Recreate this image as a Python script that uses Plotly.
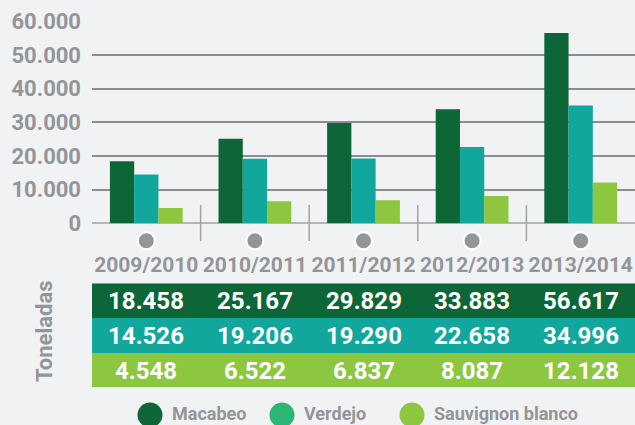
import plotly.graph_objects as go

campaigns = ["2009/2010", "2010/2011", "2011/2012", "2012/2013", "2013/2014"]
series_names = ["Macabeo", "Verdejo", "Sauvignon blanco"]
macabeo = [18458, 25167, 29829, 33883, 56617]
verdejo = [14526, 19206, 19290, 22658, 34996]
sauvignon = [4548, 6522, 6837, 8087, 12128]
y_ticks = [0, 10000, 20000, 30000, 40000, 50000, 60000]

bar_colors = ["#0d6638", "#12a79d", "#8dc63f"]
legend_colors = ["#0d6638", "#2bb673", "#8dc63f"]
GRAY = "#939598"
BG = "#f1f2f4"
FONT = "Roboto"

W, H = 635, 425
ML = 92
def py(px):
    return 1 - px / H
def pxx(px):
    return (px - ML) / (W - ML)

values = [macabeo, verdejo, sauvignon]

fig = go.Figure()
for name, vals, col in zip(series_names, values, bar_colors):
    fig.add_trace(go.Bar(x=campaigns, y=vals, name=name, marker=dict(color=col, line=dict(width=0)),
                         showlegend=False, xaxis="x", yaxis="y", hoverinfo="skip"))

# table as heatmap
z = [[i] * len(campaigns) for i in range(len(series_names))]
text = [[f"{v:,}".replace(",", ".") for v in vals] for vals in values]
fig.add_trace(go.Heatmap(
    x=campaigns, y=list(range(len(series_names))), z=z, text=text,
    texttemplate="%{text}", textfont=dict(family=FONT, size=24, color="white", weight="bold"),
    colorscale=[[0, bar_colors[0]], [0.5, bar_colors[1]], [1, bar_colors[2]]],
    zmin=0, zmax=2, showscale=False, xgap=0, ygap=0, hoverinfo="skip",
    xaxis="x2", yaxis="y2"))

shapes = []
# separators between categories
for i in range(len(campaigns) - 1):
    shapes.append(dict(type="line", xref="x", yref="paper", x0=i + 0.5, x1=i + 0.5,
                       y0=py(241), y1=py(205), line=dict(color="#a0a1a3", width=1.5)))
# gray dots under categories
for c in campaigns:
    shapes.append(dict(type="circle", xref="x", yref="paper", xsizemode="pixel", ysizemode="pixel",
                       xanchor=c, yanchor=py(240.7), x0=-8.5, x1=8.5, y0=-8.5, y1=8.5,
                       fillcolor=GRAY, line=dict(color="white", width=2)))

annotations = [dict(text="Toneladas", x=pxx(44), y=py(332), xref="paper", yref="paper",
                    textangle=-90, showarrow=False, xanchor="center", yanchor="middle",
                    font=dict(family=FONT, size=22, color=GRAY, weight="bold"))]

# legend
leg_cx = [150, 282, 412]
for name, col, cx in zip(series_names, legend_colors, leg_cx):
    shapes.append(dict(type="circle", xref="paper", yref="paper", xsizemode="pixel", ysizemode="pixel",
                       xanchor=pxx(cx), yanchor=py(415), x0=-12.5, x1=12.5, y0=-12.5, y1=12.5,
                       fillcolor=col, line=dict(width=0)))
    annotations.append(dict(text=name, x=pxx(cx + 20), y=py(413), xref="paper", yref="paper",
                            showarrow=False, xanchor="left", yanchor="middle",
                            font=dict(family=FONT, size=18, color=GRAY, weight="bold")))

fig.update_layout(
    width=W, height=H,
    margin=dict(l=ML, r=0, t=0, b=0, autoexpand=False),
    paper_bgcolor=BG, plot_bgcolor=BG,
    separators=",.",
    barmode="group", bargap=0.33, bargroupgap=0,
    xaxis=dict(type="category", domain=[0, 1], range=[-0.5, 4.5], showticklabels=False, automargin=False,
               showgrid=False, zeroline=False, showline=False, ticks="", anchor="y", fixedrange=True),
    yaxis=dict(domain=[py(223.3), py(21.5)], range=[0, 60000], tickvals=y_ticks, tickformat=",.0f",
               showgrid=True, gridcolor="#8c8d8f", gridwidth=1.5, automargin=False,
               zeroline=True, zerolinecolor="#b4b5b7", zerolinewidth=2,
               showline=False, ticks="", ticklabelstandoff=10,
               tickfont=dict(family=FONT, size=22, color=GRAY, weight="bold"), anchor="x"),
    xaxis2=dict(type="category", domain=[0, 1], range=[-0.5, 4.5], side="top", anchor="y2",
                showgrid=False, zeroline=False, showline=False, ticks="", ticklabelstandoff=6,
                automargin=False, tickfont=dict(family=FONT, size=21, color=GRAY, weight="bold")),
    yaxis2=dict(domain=[py(387.5), py(283.3)], range=[2.5, -0.5], visible=False, anchor="x2",
                automargin=False),
    shapes=shapes, annotations=annotations,
    showlegend=False,
)

fig.write_html("out.html", config={"displayModeBar": False},
               post_script="document.body.style.margin='0';document.body.style.overflow='hidden';")
